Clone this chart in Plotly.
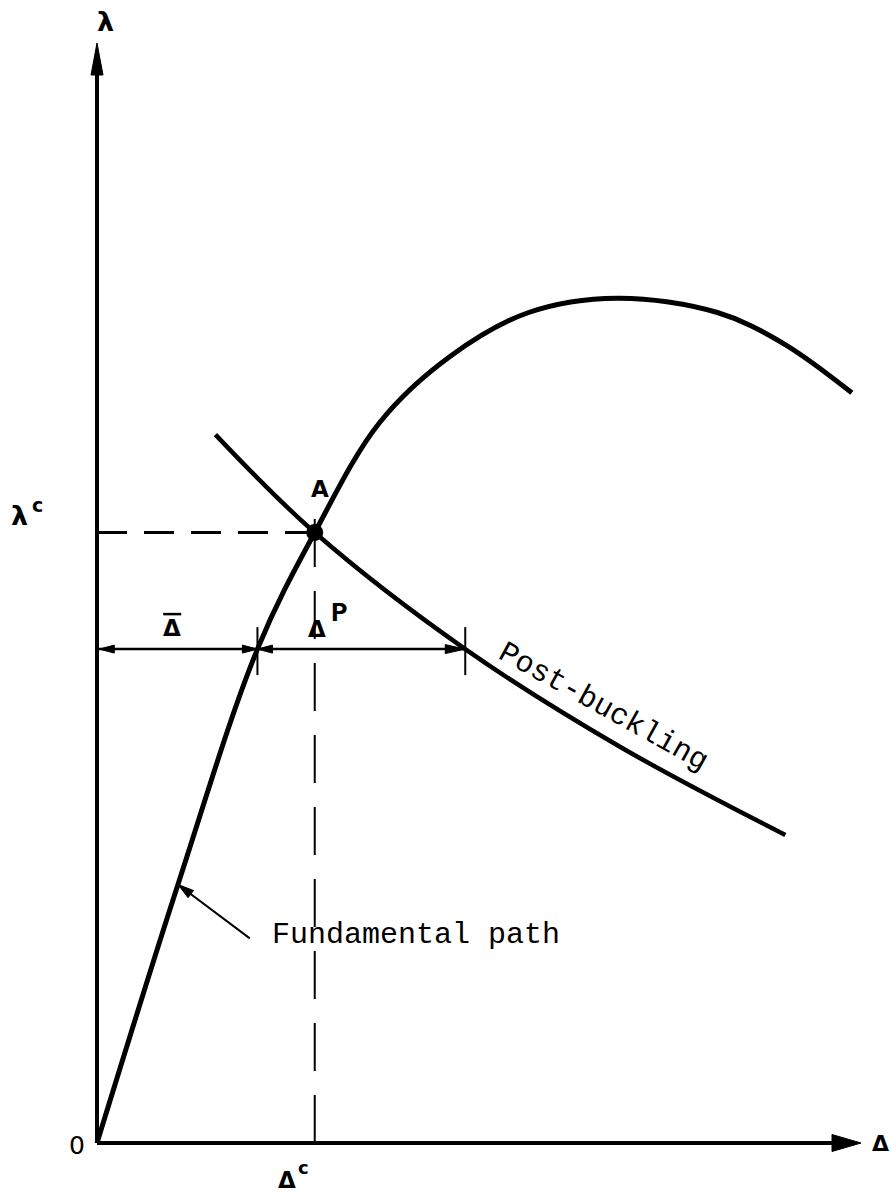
import math
import plotly.graph_objects as go

# ---- load–deflection data (Δ = deflection, λ = load) ----
delta_fund = [0.00, 1.06, 2.10, 2.85, 3.70, 4.62, 5.65, 6.81, 8.12, 8.98, 9.88]
lambda_fund = [0.00, 2.35, 4.49, 5.55, 6.55, 7.15, 7.55, 7.68, 7.55, 7.27, 6.82]

delta_post = [1.55, 2.85, 4.82, 6.85, 9.01]
lambda_post = [6.44, 5.55, 4.49, 3.60, 2.80]

delta_c = 2.85        # critical deflection (point A)
lambda_c = 5.55       # critical load (point A)
lambda_dim = 4.49     # load level of the Δ̄ / Δ^P dimension line
delta_bar = 2.10      # Δ̄
delta_p = 2.72        # Δ^P
callout_tip = (1.06, 2.35)   # where the "Fundamental path" pointer meets the curve
callout_tail = (2.00, 1.86)

delta_max = 10.0
lambda_max = 10.0

# ---- screen scale (pixels per data unit) and figure geometry ----
W, H = 891, 1194
SX = 76.4     # px per unit of Δ
SY = 110.0    # px per unit of λ
ORIGIN_PX = (97, 1143)

x_range = [-ORIGIN_PX[0] / SX, (W - ORIGIN_PX[0]) / SX]
y_range = [-(H - ORIGIN_PX[1]) / SY, ORIGIN_PX[1] / SY]


def px_x(p):
    return p / SX


def px_y(p):
    return p / SY


def arrow_head(tip, tail, length_px, half_px):
    """Filled triangular arrowhead at `tip`, pointing away from `tail`."""
    dx = (tip[0] - tail[0]) * SX
    dy = (tip[1] - tail[1]) * SY
    n = math.hypot(dx, dy)
    ux, uy = dx / n, dy / n
    bx, by = -ux * length_px, -uy * length_px
    p1 = (bx - uy * half_px, by + ux * half_px)
    p2 = (bx + uy * half_px, by - ux * half_px)
    xs = [tip[0], tip[0] + p1[0] / SX, tip[0] + p2[0] / SX, tip[0]]
    ys = [tip[1], tip[1] + p1[1] / SY, tip[1] + p2[1] / SY, tip[1]]
    return go.Scatter(x=xs, y=ys, mode="lines", fill="toself",
                      fillcolor="black", line=dict(color="black", width=1),
                      hoverinfo="skip")


fig = go.Figure()

# axes
fig.add_shape(type="line", x0=0, y0=0, x1=0, y1=lambda_max - px_y(28),
              line=dict(color="black", width=4))
fig.add_shape(type="line", x0=0, y0=0, x1=delta_max - px_x(26), y1=0,
              line=dict(color="black", width=4))
fig.add_trace(arrow_head((0, lambda_max), (0, 0), 32, 6))
fig.add_trace(arrow_head((delta_max, 0), (0, 0), 29, 8.5))

# critical point guide lines
fig.add_shape(type="line", x0=0, y0=lambda_c, x1=delta_c, y1=lambda_c,
              line=dict(color="black", width=3, dash="30px,17px"))
fig.add_shape(type="line", x0=delta_c, y0=0, x1=delta_c, y1=lambda_c + px_y(19),
              line=dict(color="black", width=2, dash="48px,24px"))

# fundamental and post-buckling paths
fig.add_trace(go.Scatter(x=delta_fund, y=lambda_fund, mode="lines",
                         line=dict(color="black", width=5, shape="spline", smoothing=1.0),
                         hoverinfo="skip"))
fig.add_trace(go.Scatter(x=delta_post, y=lambda_post, mode="lines",
                         line=dict(color="black", width=4.5, shape="spline", smoothing=1.0),
                         hoverinfo="skip"))

# point A
fig.add_trace(go.Scatter(x=[delta_c], y=[lambda_c], mode="markers",
                         marker=dict(color="black", size=17), hoverinfo="skip"))

# dimension line for Δ̄ and Δ^P
d_end = delta_bar + delta_p
fig.add_shape(type="line", x0=0, y0=lambda_dim, x1=d_end, y1=lambda_dim,
              line=dict(color="black", width=2.5))
for xt in (delta_bar, d_end):
    fig.add_shape(type="line", x0=xt, y0=lambda_dim - px_y(26), x1=xt,
                  y1=lambda_dim + px_y(22), line=dict(color="black", width=2))
fig.add_trace(arrow_head((0.03, lambda_dim), (1, lambda_dim), 15, 4))
fig.add_trace(arrow_head((delta_bar, lambda_dim), (0, lambda_dim), 15, 4))
fig.add_trace(arrow_head((delta_bar, lambda_dim), (d_end, lambda_dim), 15, 4))
fig.add_trace(arrow_head((d_end, lambda_dim), (delta_bar, lambda_dim), 20, 4.5))

# callout for the fundamental path
fig.add_shape(type="line", x0=callout_tail[0], y0=callout_tail[1],
              x1=callout_tip[0], y1=callout_tip[1], line=dict(color="black", width=2))
fig.add_trace(arrow_head(callout_tip, callout_tail, 16, 4.5))

SANS = "DejaVu Sans"
MONO = "Liberation Mono"


def label(x, y, text, size, family=SANS, xanchor="center", yanchor="middle", angle=0):
    fig.add_annotation(x=x, y=y, xref="x", yref="y", text=text, showarrow=False,
                       xanchor=xanchor, yanchor=yanchor, textangle=angle,
                       font=dict(family=family, size=size, color="black"))


label(px_x(8), lambda_max + px_y(22), "<b>λ</b>", 27)
label(delta_max + px_x(19), 0, "<b>Δ</b>", 22)
label(-px_x(20), -px_y(2), "0", 25)
label(-px_x(78), lambda_c + px_y(17), "<b>λ</b>", 27)
label(-px_x(60), lambda_c + px_y(28), "<b>c</b>", 19)
label(delta_c + px_x(5), lambda_c + px_y(44), "<b>A</b>", 23)
label(delta_c - px_x(28), -px_y(37), "<b>Δ</b>", 23)
label(delta_c - px_x(11), -px_y(24), "<b>c</b>", 18)

# Δ̄ : delta with an over-bar
bar_x = delta_bar / 2 - px_x(5)
label(bar_x, lambda_dim + px_y(6), "<b>Δ</b>", 23, yanchor="bottom")
fig.add_shape(type="line", x0=bar_x - px_x(9), x1=bar_x + px_x(9),
              y0=lambda_dim + px_y(35), y1=lambda_dim + px_y(35),
              line=dict(color="black", width=2.5))

label(delta_c + px_x(2), lambda_dim + px_y(5), "<b>Δ</b>", 23, yanchor="bottom")
label(delta_c + px_x(25), lambda_dim + px_y(36), "<b>P</b>", 28, family=MONO)
label(6.62, 3.96, "Post-buckling", 30, family=MONO, angle=29)
label(callout_tail[0] + px_x(20), callout_tail[1] + px_y(3), "Fundamental path", 30,
      family=MONO, xanchor="left")

fig.update_layout(
    width=W, height=H,
    margin=dict(l=0, r=0, t=0, b=0),
    paper_bgcolor="white", plot_bgcolor="white",
    showlegend=False,
    xaxis=dict(range=x_range, visible=False, fixedrange=True),
    yaxis=dict(range=y_range, visible=False, fixedrange=True),
)

fig.write_html("out.html")
